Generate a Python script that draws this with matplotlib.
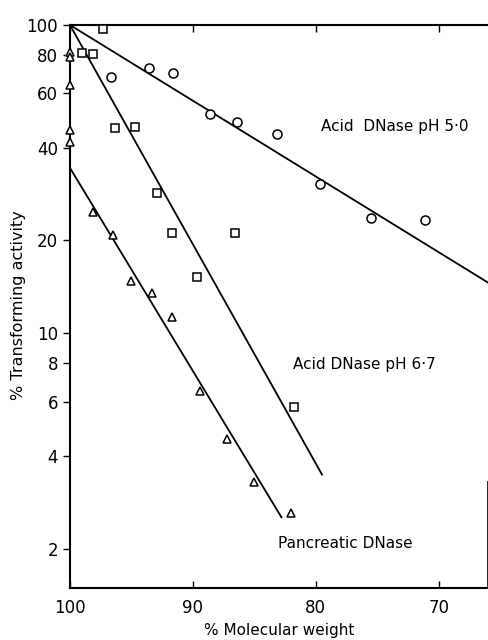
"""Loss of transforming activity against molecular weight for three DNase treatments."""

import matplotlib

matplotlib.use("Agg")
import matplotlib.pyplot as plt
from matplotlib.ticker import FixedLocator, NullLocator

# Acid DNase pH 5.0 (open circles)
ph50_mw = [96.7, 93.6, 91.6, 88.6, 86.4, 83.2, 79.7, 75.5, 71.1]
ph50_act = [67.8, 72.4, 69.8, 51.4, 48.4, 44.3, 30.5, 23.6, 23.3]
ph50_fit_mw = [100, 66]
ph50_fit_act = [100, 14.6]

# Acid DNase pH 6.7 (open squares)
ph67_mw = [97.3, 99.0, 98.1, 96.3, 94.7, 92.9, 91.7, 86.6, 89.7, 81.8]
ph67_act = [97, 81.1, 80.5, 46.4, 46.7, 28.5, 21.1, 21.1, 15.2, 5.75]
ph67_fit_mw = [100, 79.5]
ph67_fit_act = [100, 3.48]

# Pancreatic DNase (open triangles)
panc_mw = [100, 100, 100, 100, 100, 98.1, 96.5, 95.0, 93.3, 91.7, 89.4, 87.2, 85.0, 82.0]
panc_act = [81.7, 78.7, 63.8, 45.6, 41.7, 24.7, 20.8, 14.8, 13.5, 11.3, 6.5, 4.53, 3.30, 2.62]
panc_fit_mw = [100, 82.8]
panc_fit_act = [34.4, 2.53]

y_ticks = [100, 80, 60, 40, 20, 10, 8, 6, 4, 2]
x_ticks = [100, 90, 80, 70]

plt.rcParams["font.family"] = ["DejaVu Sans"]

fig = plt.figure(figsize=(4.89, 6.40), dpi=100)
ax = fig.add_axes([0.143, 0.081, 0.855, 0.880])

ax.set_yscale("log")
ax.set_xlim(100, 66)
ax.set_ylim(1.49, 100)

mk = dict(linestyle="none", markerfacecolor="white", markeredgecolor="black",
          markeredgewidth=1.1, clip_on=False, zorder=3)
ax.plot(ph50_fit_mw, ph50_fit_act, color="black", lw=1.3, clip_on=False)
ax.plot(ph67_fit_mw, ph67_fit_act, color="black", lw=1.3)
ax.plot(panc_fit_mw, panc_fit_act, color="black", lw=1.3)
ax.plot(ph50_mw, ph50_act, marker="o", markersize=6.5, **mk)
ax.plot(ph67_mw, ph67_act, marker="s", markersize=5.5, **mk)
ax.plot(panc_mw, panc_act, marker="^", markersize=6, **mk)

ax.text(79.6, 47, "Acid  DNase pH 5·0", fontsize=11, va="center", ha="left")
ax.text(81.9, 7.9, "Acid DNase pH 6·7", fontsize=11, va="center", ha="left")
ax.text(83.1, 2.08, "Pancreatic DNase", fontsize=11, va="center", ha="left")

ax.yaxis.set_major_locator(FixedLocator(y_ticks))
ax.yaxis.set_minor_locator(NullLocator())
ax.set_yticklabels([str(v) for v in y_ticks], fontsize=12)
ax.xaxis.set_major_locator(FixedLocator(x_ticks))
ax.set_xticklabels([str(v) for v in x_ticks], fontsize=12)

ax.tick_params(axis="y", which="major", direction="out", length=5, width=1,
               left=True, right=True, labelright=False)
ax.tick_params(axis="x", which="major", direction="in", length=5, width=1,
               bottom=True, top=True, pad=8)

for side in ["left", "bottom", "top"]:
    ax.spines[side].set_linewidth(1.5)
ax.spines["right"].set_linewidth(1.2)
ax.spines["right"].set_bounds(1.49, 3.3)

ax.set_xlabel("% Molecular weight", fontsize=11, labelpad=4)
fig.text(19 / 489, 1 - 305 / 640, "% Transforming activity", fontsize=11.5,
         rotation=90, ha="center", va="center")

fig.savefig("out.png", dpi=100)
